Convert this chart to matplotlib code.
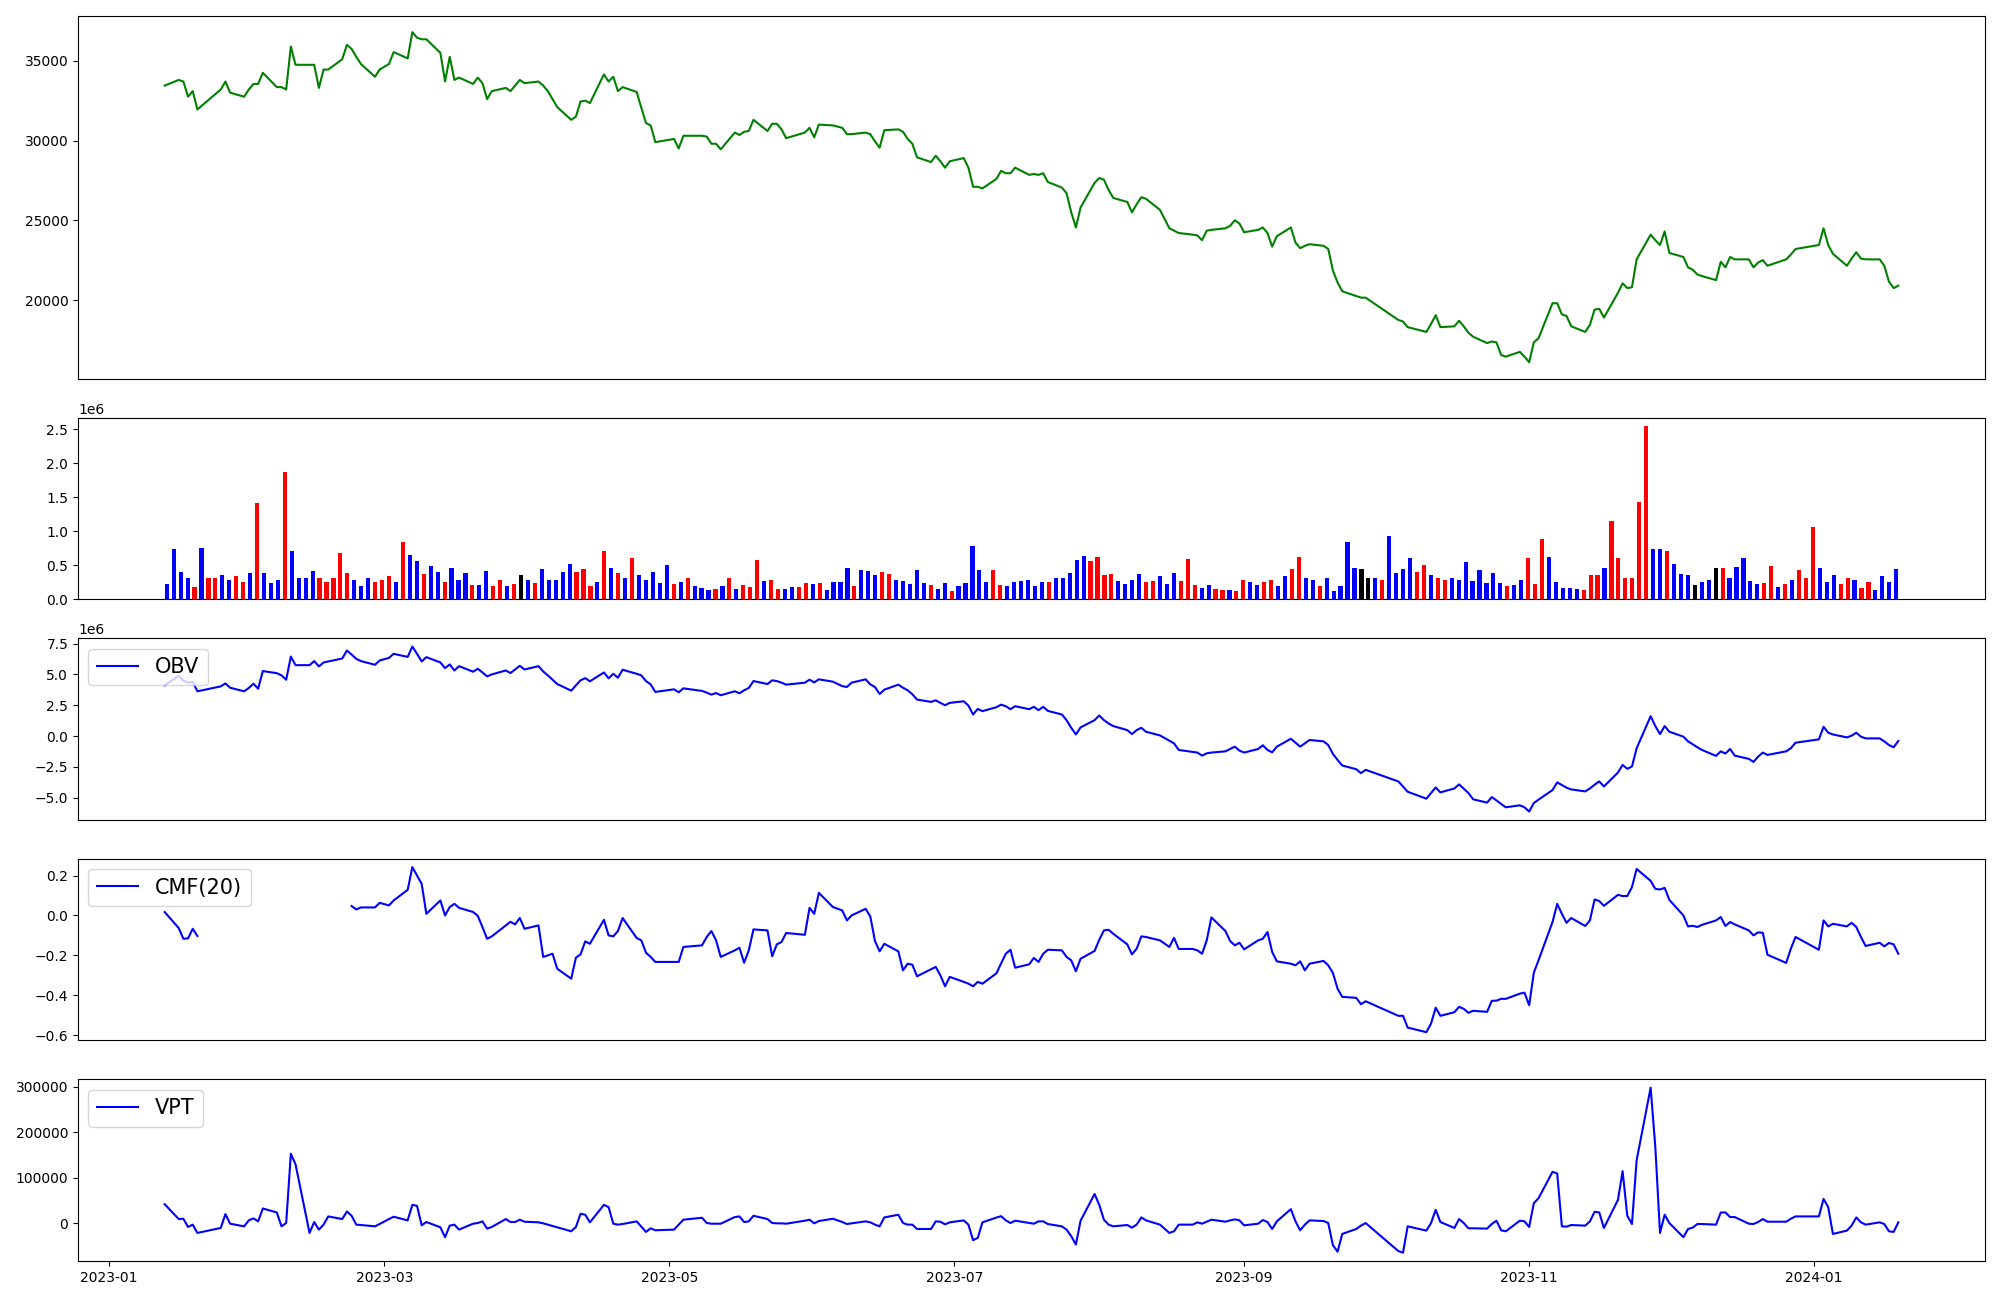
# plot.py
# Price, volume and volume-based indicators (OBV, CMF, VPT)

import numpy as np
import pandas as pd
import matplotlib
matplotlib.use("Agg")
import matplotlib.pyplot as plt

# Trading days: weekdays from 2023-01-13 to 2024-01-19 minus exchange holidays
START = "2023-01-13"
END = "2024-01-19"
HOLIDAYS = ["2023-01-23", "2023-01-24", "2023-03-01", "2023-05-01", "2023-05-05",
            "2023-05-29", "2023-06-06", "2023-08-15", "2023-09-28", "2023-09-29",
            "2023-10-02", "2023-10-03", "2023-10-09", "2023-12-25", "2023-12-29",
            "2024-01-01"]

# Closing price (one row per month)
close = [
    33450, 33800, 33700, 32750, 33100, 31950, 33200, 33700, 33000, 32750, 33200,
    33550, 33550, 34250, 33350, 33350, 33200, 35900, 34750, 34750, 34750, 33300, 34450, 34450, 35100, 36000, 35750, 35250, 34800, 34000, 34450,
    34800, 35550, 35150, 36800, 36450, 36350, 36350, 35500, 33700, 35250, 33800, 33950, 33550, 33950, 33600, 32600, 33100, 33300, 33100, 33450, 33800, 33600,
    33700, 33450, 33100, 32600, 32100, 31300, 31500, 32450, 32500, 32350, 34150, 33700, 34000, 33100, 33350, 33050, 32050, 31100, 30950, 29900,
    30100, 29500, 30300, 30300, 30250, 29800, 29800, 29450, 30500, 30350, 30550, 30600, 31300, 30600, 31050, 31050, 30700, 30150, 30500, 30800,
    30200, 31000, 30950, 30800, 30400, 30400, 30500, 30400, 29950, 29550, 30650, 30700, 30550, 30100, 29800, 28950, 28650, 29050, 28700, 28300, 28700,
    28900, 28300, 27100, 27100, 27000, 27600, 28100, 27950, 27950, 28300, 27850, 27900, 27850, 27950, 27400, 27050, 26700, 25500, 24550, 25800, 27350,
    27650, 27550, 26900, 26400, 26150, 25500, 26000, 26450, 26350, 25650, 24500, 24350, 24200, 24100, 24050, 23750, 24350, 24400, 24500, 24650, 25000, 24800,
    24250, 24400, 24550, 24200, 23350, 24000, 24550, 23600, 23250, 23400, 23500, 23400, 23200, 21850, 21100, 20550, 20250, 20150, 20150,
    18750, 18650, 18300, 18000, 18500, 19050, 18300, 18350, 18700, 18350, 17950, 17700, 17300, 17400, 17350, 16550, 16450, 16750, 16450,
    16100, 17350, 17600, 19800, 19800, 19100, 19000, 18350, 18000, 18450, 19400, 19450, 18900, 20450, 21050, 20750, 20800, 22550, 24100, 23750, 23450, 24300,
    22950, 22700, 22050, 21900, 21600, 21500, 21250, 22400, 22050, 22700, 22550, 22550, 22050, 22350, 22500, 22150, 22550, 22850, 23200,
    23450, 24500, 23450, 22900, 22150, 22600, 23000, 22600, 22550, 22550, 22150, 21150, 20750, 20900,
]

# Volume in millions of shares, and bar colour code (b=blue, r=red, k=black)
volume_m = [
    0.22, 0.735, 0.40, 0.31, 0.18, 0.75, 0.32, 0.31, 0.35, 0.28,
    0.34, 0.26, 0.38, 1.41, 0.38, 0.235, 0.29, 1.87, 0.71, 0.32,
    0.31, 0.41, 0.32, 0.26, 0.32, 0.68, 0.38, 0.29, 0.19, 0.31,
    0.25, 0.29, 0.34, 0.26, 0.84, 0.65, 0.56, 0.37, 0.485, 0.40,
    0.26, 0.455, 0.29, 0.38, 0.21, 0.21, 0.41, 0.19, 0.28, 0.19,
    0.22, 0.35, 0.29, 0.235, 0.44, 0.29, 0.29, 0.40, 0.515, 0.40,
    0.44, 0.19, 0.25, 0.71, 0.455, 0.38, 0.32, 0.60, 0.35, 0.28,
    0.40, 0.235, 0.50, 0.22, 0.25, 0.31, 0.19, 0.16, 0.13, 0.15,
    0.19, 0.32, 0.15, 0.21, 0.18, 0.57, 0.265, 0.29, 0.15, 0.15,
    0.18, 0.18, 0.235, 0.22, 0.235, 0.13, 0.25, 0.25, 0.455, 0.19,
    0.43, 0.41, 0.35, 0.40, 0.37, 0.28, 0.265, 0.22, 0.43, 0.235,
    0.21, 0.15, 0.235, 0.12, 0.19, 0.235, 0.78, 0.43, 0.25, 0.43,
    0.21, 0.19, 0.25, 0.265, 0.28, 0.19, 0.25, 0.25, 0.32, 0.31,
    0.38, 0.57, 0.63, 0.56, 0.62, 0.35, 0.37, 0.265, 0.22, 0.29,
    0.37, 0.25, 0.265, 0.34, 0.22, 0.38, 0.265, 0.59, 0.21, 0.16,
    0.21, 0.15, 0.13, 0.13, 0.12, 0.28, 0.25, 0.21, 0.25, 0.28,
    0.19, 0.34, 0.44, 0.62, 0.31, 0.29, 0.19, 0.31, 0.12, 0.19,
    0.84, 0.455, 0.44, 0.31, 0.31, 0.29, 0.93, 0.38, 0.44, 0.60,
    0.40, 0.50, 0.35, 0.32, 0.28, 0.32, 0.29, 0.545, 0.265, 0.43,
    0.235, 0.38, 0.235, 0.19, 0.21, 0.28, 0.60, 0.22, 0.88, 0.62,
    0.25, 0.16, 0.16, 0.15, 0.13, 0.35, 0.35, 0.455, 1.15, 0.60,
    0.32, 0.31, 1.43, 2.54, 0.735, 0.735, 0.71, 0.515, 0.37, 0.35,
    0.21, 0.25, 0.29, 0.455, 0.455, 0.31, 0.47, 0.60, 0.265, 0.22,
    0.235, 0.485, 0.18, 0.22, 0.28, 0.43, 0.32, 1.06, 0.455, 0.25,
    0.35, 0.22, 0.32, 0.28, 0.16, 0.25, 0.13, 0.34, 0.25, 0.44,
]
bar_codes = (
    "bbbbrbrrbb" "rrbrbbbrbb" "bbrrrrrbbb" "rrrbrbbrbb" "rbbbrbbrrb"
    "rkbrbbbbbr" "rrbrbrbrbb" "bbbrbrbbbr" "brbrrrbrrb" "brrbrbbbbr"
    "bbbrrbbbbb" "rbbrbbbbbr" "rbbbbbbrbb" "bbbrrrrbbb" "brrbbbrrrb"
    "brrbrrbbrr" "bbrrbbrbbb" "bbkkbrbbbb" "rrbrrbbbbb" "bbbrbbrrrb"
    "bbbbrrrbrr" "rrrrbbrbbb" "kbbkrbbbbb" "rrbrbrrrbb" "brrbrrbbbb"
)
CODE_COLORS = {"b": "blue", "r": "red", "k": "black"}

# On-balance volume, millions
obv_m = [
    4.11, 4.89, 4.5, 4.33, 4.41, 3.63, 4.03, 4.27, 3.92, 3.63, 3.9,
    4.25, 3.84, 5.27, 5.1, 4.92, 4.57, 6.45, 5.75, 5.75, 6.08, 5.65, 5.97, 6.05, 6.29, 6.94, 6.61, 6.26, 6.08, 5.78, 6.13,
    6.34, 6.67, 6.42, 7.26, 6.67, 6.05, 6.4, 5.97, 5.51, 5.81, 5.32, 5.67, 5.22, 5.46, 5.16, 4.84, 5.0, 5.32, 5.11, 5.4, 5.7, 5.4,
    5.67, 5.24, 4.92, 4.57, 4.22, 3.68, 4.11, 4.52, 4.7, 4.44, 5.16, 4.68, 5.05, 4.73, 5.38, 5.05, 4.92, 4.46, 4.19, 3.58,
    3.79, 3.55, 3.87, 3.66, 3.52, 3.36, 3.49, 3.31, 3.63, 3.47, 3.71, 3.9, 4.46, 4.22, 4.52, 4.46, 4.33, 4.17, 4.33, 4.57,
    4.35, 4.6, 4.41, 4.05, 3.98, 4.33, 4.6, 4.19, 3.98, 3.41, 3.76, 4.17, 3.92, 3.71, 3.39, 2.96, 2.77, 2.9, 2.69, 2.5, 2.69,
    2.82, 2.47, 1.75, 2.2, 2.02, 2.34, 2.55, 2.42, 2.18, 2.42, 2.18, 2.37, 2.10, 2.37, 2.04, 1.75, 1.29, 0.67, 0.13, 0.70, 1.29,
    1.67, 1.29, 1.02, 0.81, 0.48, 0.16, 0.48, 0.67, 0.35, 0.05, -0.38, -0.59, -1.13, -1.29, -1.34, -1.59, -1.40, -1.34, -1.24, -1.05, -0.86, -1.18,
    -1.34, -1.05, -0.75, -1.13, -1.32, -0.86, -0.22, -0.54, -0.86, -0.59, -0.32, -0.43, -0.73, -1.45, -1.94, -2.39, -2.69, -3.01, -2.74,
    -3.68, -4.09, -4.52, -5.08, -4.62, -4.17, -4.57, -4.25, -3.92, -4.27, -4.62, -5.13, -5.40, -4.95, -5.22, -5.51, -5.78, -5.62, -5.78,
    -6.13, -5.43, -5.16, -4.38, -3.76, -3.98, -4.19, -4.33, -4.49, -4.25, -3.95, -3.68, -4.09, -2.96, -2.34, -2.66, -2.47, -0.99, 1.61, 0.81, 0.16, 0.81,
    0.35, -0.05, -0.43, -0.67, -0.91, -1.13, -1.61, -1.24, -1.42, -1.05, -1.59, -1.85, -2.10, -1.67, -1.34, -1.53, -1.24, -0.99, -0.54,
    -0.27, 0.75, 0.27, 0.13, -0.11, 0.03, 0.27, -0.05, -0.19, -0.19, -0.43, -0.73, -0.91, -0.40,
]

# Chaikin money flow, 20 periods (gap where the series is missing)
nan = np.nan
cmf = [
    0.017, -0.063, -0.117, -0.115, -0.067, -0.103, nan, nan, nan, nan, nan,
    nan, nan, nan, nan, nan, nan, nan, nan, nan, nan, nan, nan, nan, nan, nan, 0.047, 0.03, 0.04, 0.04, 0.063,
    0.05, 0.075, 0.128, 0.242, 0.2, 0.158, 0.008, 0.075, 0.0, 0.042, 0.058, 0.038, 0.017, -0.002, -0.058, -0.117, -0.105, -0.05, -0.032, -0.045, -0.013, -0.067,
    -0.05, -0.208, -0.2, -0.192, -0.267, -0.317, -0.212, -0.195, -0.13, -0.142, -0.022, -0.1, -0.105, -0.078, -0.013, -0.113, -0.125, -0.187, -0.208, -0.233,
    -0.233, -0.233, -0.158, -0.15, -0.108, -0.078, -0.125, -0.208, -0.175, -0.162, -0.237, -0.175, -0.07, -0.075, -0.205, -0.145, -0.133, -0.088, -0.097, 0.038,
    0.008, 0.113, 0.042, 0.025, -0.025, 0.0, 0.033, -0.005, -0.128, -0.18, -0.142, -0.18, -0.275, -0.242, -0.247, -0.305, -0.27, -0.258, -0.3, -0.355, -0.308,
    -0.333, -0.342, -0.355, -0.333, -0.342, -0.29, -0.24, -0.192, -0.172, -0.262, -0.245, -0.213, -0.233, -0.192, -0.172, -0.175, -0.208, -0.225, -0.28, -0.217, -0.178,
    -0.122, -0.075, -0.072, -0.092, -0.145, -0.195, -0.167, -0.105, -0.108, -0.125, -0.158, -0.112, -0.168, -0.168, -0.175, -0.192, -0.125, -0.01, -0.078, -0.128, -0.15, -0.137,
    -0.17, -0.125, -0.117, -0.083, -0.183, -0.23, -0.242, -0.25, -0.23, -0.275, -0.242, -0.228, -0.25, -0.288, -0.367, -0.408, -0.413, -0.445, -0.43,
    -0.503, -0.503, -0.562, -0.585, -0.542, -0.462, -0.503, -0.485, -0.458, -0.468, -0.488, -0.478, -0.483, -0.428, -0.427, -0.418, -0.418, -0.392, -0.387,
    -0.45, -0.287, -0.225, -0.033, 0.058, 0.008, -0.037, -0.013, -0.053, -0.025, 0.08, 0.072, 0.048, 0.103, 0.097, 0.097, 0.142, 0.233, 0.173, 0.133, 0.13, 0.138,
    0.078, 0.0, -0.055, -0.052, -0.058, -0.047, -0.025, -0.008, -0.053, -0.033, -0.045, -0.075, -0.1, -0.085, -0.087, -0.197, -0.238, -0.167, -0.108,
    -0.172, -0.025, -0.055, -0.042, -0.055, -0.037, -0.058, -0.108, -0.153, -0.137, -0.155, -0.138, -0.145, -0.192,
]

# Volume price trend
vpt = [
    41400, 8700, 9400, -8700, -3600, -21800, -10900, 19600, -1500, -7300, 5800,
    10200, 3600, 32000, 23200, -7300, 0, 152500, 129300, -21800, 2200, -14500, -3600, 14500, 8700, 25400, 16000, -3600, -4400, -7300, -2200,
    8700, 13800, 5800, 40000, 37800, -5100, 2200, -9400, -31200, -5800, -3600, -14500, -1500, 0, 3600, -12300, -8700, 8700, 2200, 2200, 7300, 2900,
    1500, -700, -3600, -6500, -9400, -18200, -8700, 20300, 18200, 1500, 40000, 34900, -1500, -3600, -2200, 3600, -8000, -19600, -11600, -16000,
    -14500, -3600, 7300, 11600, 0, -1500, -1500, -1500, 13100, 14500, 2200, 3600, 16000, 8700, 0, -700, -700, -1500, 5100, 7300,
    -700, 4400, 9400, 2200, -2200, -700, 3600, 1500, -3600, -7300, 12300, 18200, 0, -3600, -3600, -13100, -13100, 3600, 2900, -2900, 1500,
    5800, -3600, -37800, -32700, 1500, 12000, 15000, 5800, 0, 5100, 0, -1500, 3600, 3600, -2200, -7300, -14500, -29000, -47200, 5100, 63900,
    39900, 7300, -3600, -7300, -4400, -10200, -3600, 12300, 5800, -3600, -21800, -18200, -3600, -3600, 1500, -1500, 2900, 7300, 2900, 5800, 8000, 5800,
    -5100, -1500, 6500, 2200, -13100, 3600, 30500, 3600, -16000, -3600, 5800, 4400, 0, -48700, -63200, -24000, -13100, -5800, 0,
    -61700, -65400, -7300, -16700, 0, 29000, 2200, -10900, 8700, 0, -11600, -11600, -12300, -2200, 5100, -16000, -18200, 5100, 3600,
    -8700, 43600, 54500, 112600, 108900, -7300, -8000, -4400, -5800, 3600, 24700, 23200, -10900, 50800, 114000, 16000, -2200, 138000, 297700, 167000, -21800, 18200,
    0, -31200, -13100, -10200, -2200, -2200, -3600, 23200, 23200, 13100, 13100, -1500, -2200, 2200, 8700, 2900, 2900, 9400, 14500,
    14500, 53000, 34900, -24000, -16700, -5800, 12300, 1500, -3600, 1500, -2200, -18200, -19600, 1500,
]


def main():
    days = pd.bdate_range(START, END)
    dates = days[~days.isin(pd.to_datetime(HOLIDAYS))]

    volume = np.array(volume_m) * 1e6
    obv = np.array(obv_m) * 1e6
    bar_colors = [CODE_COLORS[c] for c in bar_codes]

    fig = plt.figure(figsize=(20, 13), dpi=100)
    gs = fig.add_gridspec(5, 1, height_ratios=[2, 1, 1, 1, 1],
                          left=0.039, right=0.9925, top=0.988, bottom=0.03, hspace=0.179)
    ax_price = fig.add_subplot(gs[0])
    ax_vol = fig.add_subplot(gs[1])
    ax_obv = fig.add_subplot(gs[2])
    ax_cmf = fig.add_subplot(gs[3])
    ax_vpt = fig.add_subplot(gs[4])

    # Price
    ax_price.plot(dates, close, color="green")
    ax_price.set_xticks([])

    # Volume bars (plotted against trading-day index)
    ax_vol.bar(np.arange(len(volume)), volume, width=0.6, color=bar_colors)
    ax_vol.set_xticks([])

    # Indicators
    ax_obv.plot(dates, obv, color="blue", label="OBV")
    ax_obv.legend(loc="upper left", fontsize=15)
    ax_obv.set_xticks([])

    ax_cmf.plot(dates, cmf, color="blue", label="CMF(20)")
    ax_cmf.legend(loc="upper left", fontsize=15)
    ax_cmf.set_xticks([])

    ax_vpt.plot(dates, vpt, color="blue", label="VPT")
    ax_vpt.legend(loc="upper left", fontsize=15)

    fig.savefig("out.png")


if __name__ == "__main__":
    main()
